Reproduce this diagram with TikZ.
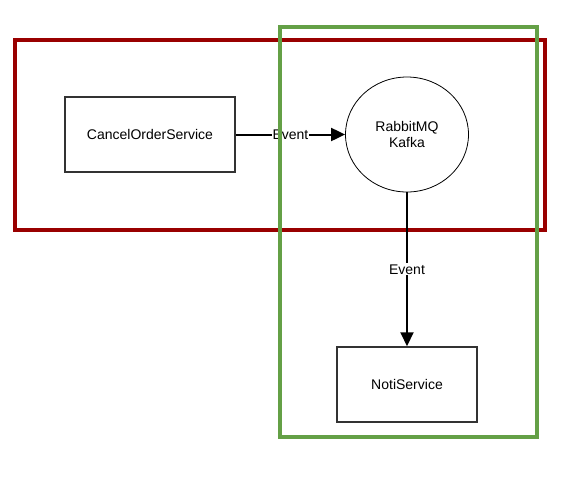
\documentclass[tikz,border=0pt]{standalone}
\usepackage{fontspec}
\setmainfont{Liberation Sans}
\usetikzlibrary{arrows.meta,shapes.geometric}
\definecolor{frred}{HTML}{990000}
\definecolor{frgreen}{HTML}{64A046}
\definecolor{boxline}{HTML}{333333}
\tikzset{
  frame/.style={line width=3.2pt},
  svcbox/.style={draw=boxline, line width=1.5pt, rectangle, inner sep=0pt, font=\fontsize{14}{18}\selectfont},
  queue/.style={draw=black, line width=0.8pt, ellipse, inner sep=0pt, align=center, font=\fontsize{14}{16}\selectfont},
  flow/.style={line width=2pt, -{Triangle[length=14pt,width=13pt]}},
  lbl/.style={fill=white, inner sep=1pt, font=\fontsize{14}{16}\selectfont}
}
\begin{document}
\begin{tikzpicture}[x=1pt,y=-1pt]
\useasboundingbox (0,0) rectangle (569,493);
\fill[white] (0,0) rectangle (569,493);
\coordinate (r1) at (15,40);
\coordinate (r2) at (545,230);
\draw[frame, draw=frred] (r1) rectangle (r2);
\node[svcbox, minimum width=170pt, minimum height=75pt] (cancel) at (150,134.5) {CancelOrderService};
\node[queue, minimum width=123pt, minimum height=115pt] (mq) at (407,134.5) {RabbitMQ\\Kafka};
\node[svcbox, minimum width=140pt, minimum height=75pt] (noti) at (407,384.5) {NotiService};
\draw[flow] (cancel.east) -- node[lbl] {Event} (mq.west);
\draw[flow] (mq.south) -- node[lbl] {Event} (noti.north);
\coordinate (g1) at (280,27);
\coordinate (g2) at (537,437);
\draw[frame, draw=frgreen] (g1) rectangle (g2);
\end{tikzpicture}
\end{document}
